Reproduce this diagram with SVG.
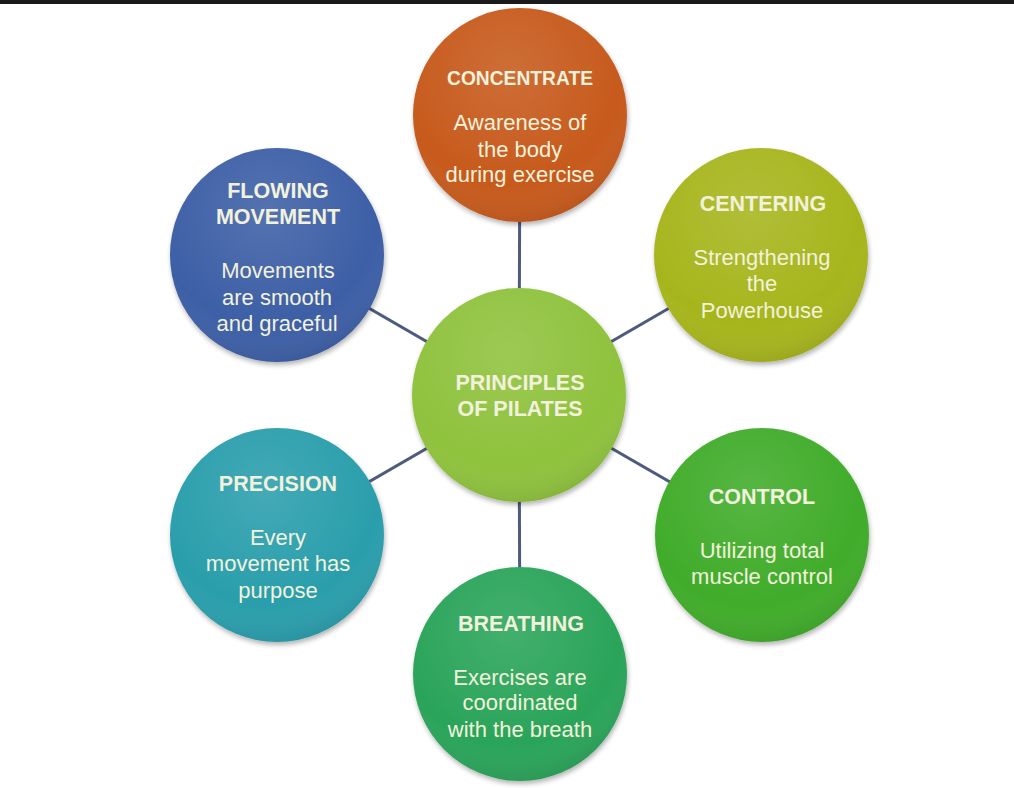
<svg xmlns="http://www.w3.org/2000/svg" width="1014" height="788" viewBox="0 0 1014 788">
<defs>
<radialGradient id="shine" cx="0.45" cy="0.3" r="0.75">
<stop offset="0" stop-color="#ffffff" stop-opacity="0.12"/>
<stop offset="0.7" stop-color="#ffffff" stop-opacity="0"/>
<stop offset="1" stop-color="#000000" stop-opacity="0.12"/>
</radialGradient>
<filter id="sh" x="-20%" y="-20%" width="140%" height="140%">
<feGaussianBlur in="SourceAlpha" stdDeviation="2.5"/>
<feOffset dx="1" dy="3" result="b"/>
<feComponentTransfer><feFuncA type="linear" slope="0.3"/></feComponentTransfer>
<feMerge><feMergeNode/><feMergeNode in="SourceGraphic"/></feMerge>
</filter>
</defs>
<style>
.c{filter:url(#sh)}
.o{fill:url(#shine)}
.h{font-family:"Liberation Sans",Arial,sans-serif;font-weight:bold;font-size:21.5px;fill:#f2f2dc;text-anchor:middle}
.t{font-family:"Liberation Sans",Arial,sans-serif;font-size:22px;fill:#f2f2dc;text-anchor:middle}
.ln{stroke:#4d5b7c;stroke-width:3;fill:none}
</style>
<rect width="1014" height="788" fill="#ffffff"/>
<rect width="1014" height="4" fill="#1a1a1a"/>
<g id="connectors">
<line class="ln" x1="519" y1="395" x2="520" y2="115"/>
<line class="ln" x1="519" y1="395" x2="520" y2="674"/>
<line class="ln" x1="519" y1="395" x2="277" y2="255"/>
<line class="ln" x1="519" y1="395" x2="761" y2="255"/>
<line class="ln" x1="519" y1="395" x2="277" y2="535"/>
<line class="ln" x1="519" y1="395" x2="762" y2="535"/>
</g>
<g id="concentrate">
<circle class="c" cx="520" cy="115" r="107" fill="#c75a1d"/>
<circle class="o" cx="520" cy="115" r="107"/>
<text class="h" x="520" y="85" style="font-size:20px" textLength="146" lengthAdjust="spacingAndGlyphs">CONCENTRATE</text>
<text class="t" x="520" y="130">Awareness of</text>
<text class="t" x="520" y="157">the body</text>
<text class="t" x="520" y="182">during exercise</text>
</g>
<g id="flowing">
<circle class="c" cx="277" cy="255" r="107" fill="#3c5ea6"/>
<circle class="o" cx="277" cy="255" r="107"/>
<text class="h" x="278" y="198">FLOWING</text>
<text class="h" x="278" y="224">MOVEMENT</text>
<text class="t" x="278" y="278">Movements</text>
<text class="t" x="277" y="305">are smooth</text>
<text class="t" x="277" y="331">and graceful</text>
</g>
<g id="centering">
<circle class="c" cx="761" cy="255" r="107" fill="#a7b51f"/>
<circle class="o" cx="761" cy="255" r="107"/>
<text class="h" x="763" y="211">CENTERING</text>
<text class="t" x="762" y="265">Strengthening</text>
<text class="t" x="762" y="291">the</text>
<text class="t" x="762" y="318">Powerhouse</text>
</g>
<g id="center">
<circle class="c" cx="519" cy="395" r="107" fill="#8fc23c"/>
<circle class="o" cx="519" cy="395" r="107"/>
<text class="h" x="520" y="390">PRINCIPLES</text>
<text class="h" x="520" y="416">OF PILATES</text>
</g>
<g id="precision">
<circle class="c" cx="277" cy="535" r="107" fill="#2c9eac"/>
<circle class="o" cx="277" cy="535" r="107"/>
<text class="h" x="278" y="491">PRECISION</text>
<text class="t" x="278" y="545">Every</text>
<text class="t" x="278" y="571">movement has</text>
<text class="t" x="278" y="598">purpose</text>
</g>
<g id="control">
<circle class="c" cx="762" cy="535" r="107" fill="#41ac2b"/>
<circle class="o" cx="762" cy="535" r="107"/>
<text class="h" x="762" y="504">CONTROL</text>
<text class="t" x="762" y="558">Utilizing total</text>
<text class="t" x="762" y="584">muscle control</text>
</g>
<g id="breathing">
<circle class="c" cx="520" cy="674" r="107" fill="#2ba45a"/>
<circle class="o" cx="520" cy="674" r="107"/>
<text class="h" x="521" y="631">BREATHING</text>
<text class="t" x="520" y="685">Exercises are</text>
<text class="t" x="520" y="710">coordinated</text>
<text class="t" x="520" y="737">with the breath</text>
</g>
</svg>
